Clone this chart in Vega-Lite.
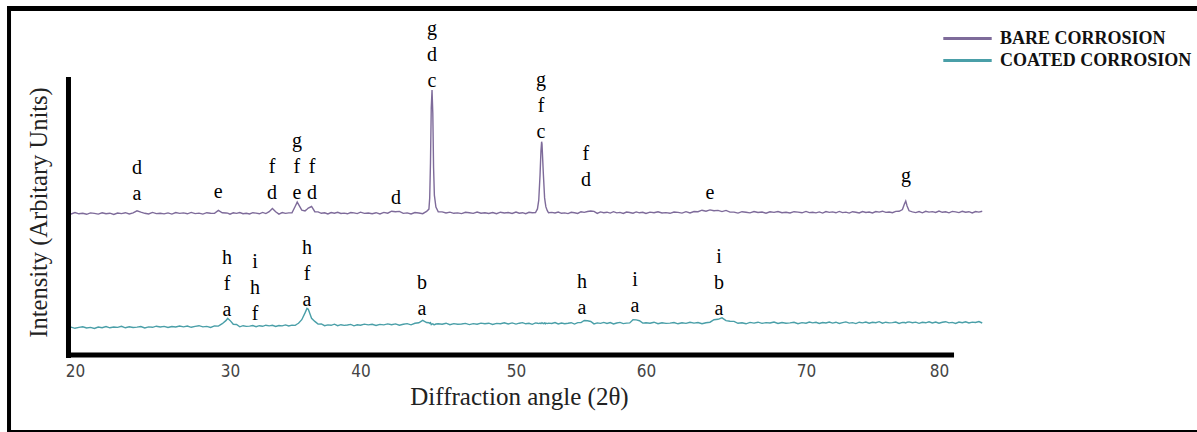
{
"$schema": "https://vega.github.io/schema/vega-lite/v6.json",
"width": 1197, "height": 432,
"autosize": {"type": "none"},
"padding": 0,
"background": "white",
"config": {"view": {"stroke": null}},
"datasets": {
"xrd": [
{"x":19.5,"b":141.9,"c":27.0},{"x":19.75,"b":141.0,"c":27.9},{"x":20,"b":142.4,"c":26.7},{"x":20.25,"b":141.2,"c":27.6},{"x":20.5,"b":141.7,"c":28.2},{"x":20.75,"b":140.7,"c":27.0},{"x":21,"b":142.1,"c":27.6},{"x":21.25,"b":141.6,"c":26.6},{"x":21.5,"b":140.9,"c":28.0},{"x":21.75,"b":142.2,"c":27.3},
{"x":22,"b":141.3,"c":28.4},{"x":22.25,"b":141.8,"c":27.2},{"x":22.5,"b":140.6,"c":28.0},{"x":22.75,"b":142.0,"c":27.6},{"x":23,"b":141.4,"c":28.7},{"x":23.25,"b":142.3,"c":27.2},{"x":23.5,"b":141.1,"c":28.2},{"x":23.75,"b":142.1,"c":27.5},{"x":24,"b":144.2,"c":27.9},{"x":24.25,"b":142.9,"c":28.5},
{"x":24.5,"b":141.7,"c":27.1},{"x":24.75,"b":141.0,"c":28.1},{"x":25,"b":142.6,"c":27.7},{"x":25.25,"b":141.4,"c":28.8},{"x":25.5,"b":141.8,"c":28.0},{"x":25.75,"b":141.1,"c":28.6},{"x":26,"b":142.1,"c":27.5},{"x":26.25,"b":140.9,"c":28.5},{"x":26.5,"b":142.4,"c":28.0},{"x":26.75,"b":141.6,"c":29.0},
{"x":27,"b":142.1,"c":28.1},{"x":27.25,"b":141.2,"c":29.0},{"x":27.5,"b":142.6,"c":27.7},{"x":27.75,"b":141.4,"c":28.6},{"x":28,"b":141.9,"c":29.3},{"x":28.25,"b":140.9,"c":28.1},{"x":28.5,"b":142.3,"c":28.6},{"x":28.75,"b":141.8,"c":27.6},{"x":29,"b":141.6,"c":29.1},{"x":29.25,"b":144.6,"c":28.9},
{"x":29.5,"b":142.2,"c":31.3},{"x":29.75,"b":142.0,"c":34.6},{"x":29.85,"b":141.9,"c":36.7},{"x":30,"b":140.8,"c":34.6},{"x":30.25,"b":142.2,"c":30.7},{"x":30.5,"b":141.6,"c":30.5},{"x":30.75,"b":142.5,"c":28.2},{"x":31,"b":141.3,"c":29.3},{"x":31.25,"b":141.7,"c":28.6},{"x":31.5,"b":141.0,"c":28.9},
{"x":31.75,"b":142.3,"c":29.5},{"x":32,"b":141.9,"c":28.3},{"x":32.25,"b":141.2,"c":29.3},{"x":32.5,"b":142.6,"c":28.7},{"x":32.75,"b":141.4,"c":29.8},{"x":33,"b":143.3,"c":29.1},{"x":33.25,"b":146.6,"c":29.7},{"x":33.5,"b":143.3,"c":28.5},{"x":33.75,"b":140.9,"c":29.5},{"x":34,"b":142.4,"c":29.1},
{"x":34.25,"b":141.6,"c":30.1},{"x":34.5,"b":142.1,"c":29.0},{"x":34.75,"b":142.2,"c":29.9},{"x":35,"b":148.8,"c":29.6},{"x":35.15,"b":152.9,"c":31.0},{"x":35.25,"b":150.6,"c":31.7},{"x":35.5,"b":144.8,"c":35.3},{"x":35.75,"b":144.1,"c":42.1},{"x":35.9,"b":145.7,"c":46.6},{"x":36,"b":147.0,"c":45.7},
{"x":36.25,"b":148.5,"c":36.7},{"x":36.5,"b":143.3,"c":33.6},{"x":36.75,"b":143.1,"c":30.9},{"x":37,"b":141.7,"c":31.0},{"x":37.25,"b":142.2,"c":29.3},{"x":37.5,"b":141.0,"c":30.1},{"x":37.75,"b":142.4,"c":29.7},{"x":38,"b":141.8,"c":30.8},{"x":38.25,"b":142.7,"c":29.3},{"x":38.5,"b":141.5,"c":30.3},
{"x":38.75,"b":141.9,"c":29.6},{"x":39,"b":141.2,"c":30.0},{"x":39.25,"b":142.5,"c":30.6},{"x":39.5,"b":142.1,"c":29.2},{"x":39.75,"b":141.4,"c":30.2},{"x":40,"b":142.8,"c":29.8},{"x":40.25,"b":141.6,"c":30.9},{"x":40.5,"b":142.0,"c":30.1},{"x":40.75,"b":141.3,"c":30.7},{"x":41,"b":142.3,"c":29.6},
{"x":41.25,"b":141.1,"c":30.6},{"x":41.5,"b":142.6,"c":30.1},{"x":41.75,"b":141.8,"c":31.1},{"x":42,"b":143.8,"c":30.2},{"x":42.25,"b":143.2,"c":31.1},{"x":42.5,"b":143.6,"c":29.8},{"x":42.75,"b":141.6,"c":30.7},{"x":43,"b":142.1,"c":31.4},{"x":43.25,"b":141.1,"c":30.2},{"x":43.5,"b":142.5,"c":31.7},
{"x":43.75,"b":142.0,"c":32.2},{"x":44,"b":141.3,"c":34.7},{"x":44.25,"b":143.6,"c":32.5},{"x":44.4,"b":145.9,"c":32.3},{"x":44.45,"b":156.9,"c":31.6},{"x":44.5,"b":191.9,"c":32.3},{"x":44.55,"b":246.9,"c":30.4},{"x":44.6,"b":265.0,"c":31.0},{"x":44.65,"b":241.9,"c":31.3},{"x":44.7,"b":186.9,"c":30.5},
{"x":44.75,"b":159.9,"c":30.3},{"x":44.85,"b":147.9,"c":31.0},{"x":45,"b":143.2,"c":31.2},{"x":45.25,"b":143.1,"c":30.8},{"x":45.5,"b":142.0,"c":31.8},{"x":45.75,"b":142.9,"c":30.3},{"x":46,"b":141.7,"c":31.4},{"x":46.25,"b":142.1,"c":30.7},{"x":46.5,"b":141.4,"c":31.0},{"x":46.75,"b":142.7,"c":31.6},
{"x":47,"b":142.3,"c":30.4},{"x":47.25,"b":141.6,"c":31.4},{"x":47.5,"b":143.0,"c":30.8},{"x":47.75,"b":141.8,"c":31.9},{"x":48,"b":142.2,"c":31.2},{"x":48.25,"b":141.5,"c":31.8},{"x":48.5,"b":142.5,"c":30.6},{"x":48.75,"b":141.3,"c":31.6},{"x":49,"b":142.8,"c":31.2},{"x":49.25,"b":142.0,"c":32.2},
{"x":49.5,"b":142.5,"c":31.1},{"x":49.75,"b":141.6,"c":32.1},{"x":50,"b":143.0,"c":30.9},{"x":50.25,"b":141.8,"c":31.8},{"x":50.5,"b":142.3,"c":32.4},{"x":50.75,"b":141.3,"c":31.2},{"x":51,"b":142.7,"c":31.7},{"x":51.25,"b":142.2,"c":30.7},{"x":51.5,"b":142.5,"c":32.1},{"x":51.65,"b":146.1,"c":31.8},
{"x":51.75,"b":154.8,"c":31.4},{"x":51.85,"b":180.1,"c":32.0},{"x":51.92,"b":204.1,"c":31.3},{"x":51.97,"b":213.3,"c":31.9},{"x":52,"b":211.1,"c":32.3},{"x":52.1,"b":182.1,"c":31.3},{"x":52.2,"b":157.1,"c":32.1},{"x":52.25,"b":152.4,"c":31.1},{"x":52.3,"b":148.1,"c":31.9},{"x":52.4,"b":144.6,"c":31.4},
{"x":52.5,"b":142.2,"c":31.9},{"x":52.75,"b":142.6,"c":31.5},{"x":53,"b":142.0,"c":32.5},{"x":53.25,"b":142.9,"c":31.0},{"x":53.5,"b":141.7,"c":32.0},{"x":53.75,"b":142.1,"c":31.3},{"x":54,"b":141.4,"c":31.7},{"x":54.25,"b":142.7,"c":32.3},{"x":54.5,"b":142.3,"c":30.9},{"x":54.75,"b":141.6,"c":32.4},
{"x":55,"b":143.3,"c":32.4},{"x":55.25,"b":142.6,"c":34.5},{"x":55.5,"b":143.5,"c":34.2},{"x":55.75,"b":144.0,"c":33.5},{"x":56,"b":143.6,"c":31.1},{"x":56.25,"b":141.6,"c":32.1},{"x":56.5,"b":143.1,"c":31.6},{"x":56.75,"b":142.3,"c":32.6},{"x":57,"b":142.8,"c":31.5},{"x":57.25,"b":141.9,"c":32.4},
{"x":57.5,"b":143.3,"c":31.1},{"x":57.75,"b":142.1,"c":32.0},{"x":58,"b":142.6,"c":32.6},{"x":58.25,"b":141.6,"c":31.4},{"x":58.5,"b":143.0,"c":31.9},{"x":58.75,"b":142.5,"c":32.1},{"x":59,"b":141.8,"c":35.3},{"x":59.25,"b":143.1,"c":35.1},{"x":59.5,"b":142.2,"c":34.3},{"x":59.75,"b":142.7,"c":31.9},
{"x":60,"b":141.5,"c":32.2},{"x":60.25,"b":142.9,"c":31.8},{"x":60.5,"b":142.3,"c":32.8},{"x":60.75,"b":143.2,"c":31.3},{"x":61,"b":142.0,"c":32.3},{"x":61.25,"b":142.4,"c":31.6},{"x":61.5,"b":141.7,"c":31.9},{"x":61.75,"b":143.0,"c":32.5},{"x":62,"b":142.6,"c":31.2},{"x":62.25,"b":141.9,"c":32.2},
{"x":62.5,"b":143.3,"c":31.6},{"x":62.75,"b":142.1,"c":32.7},{"x":63,"b":143.5,"c":31.9},{"x":63.25,"b":143.3,"c":32.5},{"x":63.5,"b":144.8,"c":31.3},{"x":63.75,"b":143.8,"c":32.3},{"x":64,"b":145.1,"c":32.8},{"x":64.25,"b":144.3,"c":35.3},{"x":64.5,"b":144.6,"c":35.7},{"x":64.75,"b":143.4,"c":37.1},
{"x":65,"b":144.6,"c":34.4},{"x":65.25,"b":142.9,"c":33.8},{"x":65.5,"b":142.9,"c":33.6},{"x":65.75,"b":141.9,"c":31.7},{"x":66,"b":143.3,"c":32.2},{"x":66.25,"b":142.8,"c":31.2},{"x":66.5,"b":142.1,"c":32.6},{"x":66.75,"b":143.4,"c":31.9},{"x":67,"b":142.5,"c":32.8},{"x":67.25,"b":143.0,"c":31.6},
{"x":67.5,"b":141.8,"c":32.4},{"x":67.75,"b":143.2,"c":32.0},{"x":68,"b":142.6,"c":33.0},{"x":68.25,"b":143.5,"c":31.5},{"x":68.5,"b":142.3,"c":32.5},{"x":68.75,"b":142.7,"c":31.8},{"x":69,"b":142.0,"c":32.1},{"x":69.25,"b":143.3,"c":32.7},{"x":69.5,"b":142.9,"c":31.3},{"x":69.75,"b":142.2,"c":32.4},
{"x":70,"b":143.6,"c":31.8},{"x":70.25,"b":142.4,"c":32.9},{"x":70.5,"b":142.8,"c":32.1},{"x":70.75,"b":142.1,"c":32.7},{"x":71,"b":143.1,"c":31.5},{"x":71.25,"b":141.9,"c":32.5},{"x":71.5,"b":143.4,"c":32.0},{"x":71.75,"b":142.6,"c":33.0},{"x":72,"b":143.1,"c":31.9},{"x":72.25,"b":142.2,"c":32.8},
{"x":72.5,"b":143.6,"c":31.5},{"x":72.75,"b":142.4,"c":32.4},{"x":73,"b":142.9,"c":33.1},{"x":73.25,"b":141.9,"c":31.9},{"x":73.5,"b":143.3,"c":32.4},{"x":73.75,"b":142.8,"c":31.4},{"x":74,"b":142.1,"c":32.8},{"x":74.25,"b":143.4,"c":32.1},{"x":74.5,"b":142.5,"c":33.0},{"x":74.75,"b":143.0,"c":31.8},
{"x":75,"b":142.1,"c":32.7},{"x":75.25,"b":143.5,"c":32.3},{"x":75.5,"b":142.9,"c":33.3},{"x":75.75,"b":143.8,"c":31.8},{"x":76,"b":142.6,"c":32.8},{"x":76.25,"b":143.0,"c":32.1},{"x":76.5,"b":142.3,"c":32.4},{"x":76.75,"b":143.6,"c":33.0},{"x":77,"b":143.7,"c":31.6},{"x":77.25,"b":145.5,"c":32.6},
{"x":77.4,"b":151.0,"c":32.5},{"x":77.5,"b":154.0,"c":32.0},{"x":77.6,"b":149.0,"c":32.8},{"x":77.75,"b":144.2,"c":33.1},{"x":78,"b":143.1,"c":32.3},{"x":78.25,"b":142.4,"c":32.9},{"x":78.5,"b":143.4,"c":31.7},{"x":78.75,"b":142.2,"c":32.7},{"x":79,"b":143.7,"c":32.2},{"x":79.25,"b":142.9,"c":33.2},
{"x":79.5,"b":143.4,"c":32.1},{"x":79.75,"b":142.5,"c":33.0},{"x":80,"b":143.9,"c":31.8},{"x":80.25,"b":142.7,"c":32.7},{"x":80.5,"b":143.2,"c":33.3},{"x":80.75,"b":142.2,"c":32.1},{"x":81,"b":143.6,"c":32.6},{"x":81.25,"b":143.1,"c":31.6},{"x":81.5,"b":142.4,"c":33.0},{"x":81.75,"b":143.7,"c":32.3},
{"x":82,"b":142.8,"c":33.2},{"x":82.25,"b":143.3,"c":32.0},{"x":82.5,"b":142.1,"c":32.9},{"x":82.75,"b":143.5,"c":32.5},{"x":83,"b":142.9,"c":33.5},{"x":83.25,"b":143.8,"c":32.0}
],
"labels": [
{"x":24.0,"y":181.5,"t":"d\na"},
{"x":29.23,"y":157.5,"t":"e"},
{"x":33.22,"y":182,"t":"f\nd"},
{"x":35.13,"y":208.5,"t":"g\nf\ne"},
{"x":36.28,"y":182,"t":"f\nd"},
{"x":42.28,"y":151,"t":"d"},
{"x":44.6,"y":320.5,"t":"g\nd\nc"},
{"x":51.92,"y":269,"t":"g\nf\nc"},
{"x":55.38,"y":195,"t":"f\nd"},
{"x":64.0,"y":156.5,"t":"e"},
{"x":77.52,"y":173,"t":"g"},
{"x":29.81,"y":91,"t":"h\nf\na"},
{"x":31.92,"y":87,"t":"i\nh\nf"},
{"x":35.9,"y":101,"t":"h\nf\na"},
{"x":43.95,"y":66,"t":"b\na"},
{"x":55.08,"y":67,"t":"h\na"},
{"x":59.15,"y":69,"t":"i\na"},
{"x":64.56,"y":92,"t":"i\nb\na"}
]
},
"layer": [
{
"data": {"name": "xrd"},
"transform": [{"fold": ["b", "c"], "as": ["series", "value"]}],
"mark": {"type": "line", "strokeWidth": 1.4},
"encoding": {
"x": {"field": "x", "type": "quantitative", "title": "Diffraction angle (2θ)",
"scale": {"domain": [15.16, 20, 30, 40, 50, 60, 70, 80, 99.4], "range": [0, 75, 230, 360.5, 516, 646, 806, 939, 1197], "nice": false, "zero": false},
"axis": {"orient": "bottom", "offset": -77, "domain": false, "ticks": false, "grid": false, "values": [20, 30, 40, 50, 60, 70, 80],
"labelFont": "DejaVu Sans Condensed, Liberation Sans, sans-serif", "labelFontSize": 17, "labelColor": "#444", "labelPadding": 8, "labelFlush": false, "labelOverlap": false,
"titleFont": "Liberation Serif", "titleFontSize": 25, "titleFontWeight": "normal", "titleColor": "#222",
"titleX": 519, "titleY": 49, "titleBaseline": "alphabetic", "titleAlign": "center"}},
"y": {"field": "value", "type": "quantitative", "title": "Intensity (Arbitary Units)",
"scale": {"domain": [-77, 355], "nice": false, "zero": false},
"axis": {"orient": "left", "offset": -68.5, "domain": false, "ticks": false, "labels": false, "grid": false,
"titleFont": "Liberation Serif", "titleFontSize": 24.5, "titleFontWeight": "normal", "titleColor": "#222",
"titleX": -29, "titleY": 212, "titleAlign": "center", "titleBaseline": "middle", "titleAngle": -90}},
"color": {"field": "series", "type": "nominal",
"scale": {"domain": ["b", "c"], "range": ["#7e6b9a", "#4a9fa8"]},
"legend": {"orient": "none", "legendX": 955, "legendY": 26, "title": null, "padding": 0, "rowPadding": 0,
"symbolType": "M-2.2,0H2.2", "symbolSize": 484, "symbolStrokeWidth": 3,
"labelFont": "Liberation Serif", "labelFontSize": 18, "labelFontWeight": "bold", "labelColor": "#111", "labelOffset": 20, "labelLimit": 400,
"labelExpr": "datum.label == 'b' ? 'BARE CORROSION' : 'COATED CORROSION'",
"encode": {"symbols": {"update": {"stroke": [{"test": "datum.value === 'b'", "value": "#7030a0"}, {"value": "#20bcbc"}], "strokeWidth": {"value": 3}, "fill": {"value": "transparent"}}}}}}
}
},
{
"data": {"name": "labels"},
"mark": {"type": "text", "font": "Liberation Serif", "fontSize": 20, "color": "black", "align": "center", "baseline": "alphabetic", "lineBreak": "\n", "lineHeight": 26},
"encoding": {
"x": {"field": "x", "type": "quantitative", "title": "Diffraction angle (2θ)"},
"y": {"field": "y", "type": "quantitative", "title": "Intensity (Arbitary Units)"},
"text": {"field": "t", "type": "nominal"}
}
},
{
"data": {"values": [{}]},
"mark": {"type": "rule", "color": "black", "strokeWidth": 5},
"encoding": {"x": {"datum": 19.42, "type": "quantitative", "title": "Diffraction angle (2θ)"}, "x2": {"datum": 81.13}, "y": {"datum": 0, "type": "quantitative", "title": "Intensity (Arbitary Units)"}}
},
{
"data": {"values": [{}]},
"mark": {"type": "rule", "color": "black", "strokeWidth": 5},
"encoding": {"x": {"datum": 19.58, "type": "quantitative", "title": "Diffraction angle (2θ)"}, "y": {"datum": -3, "type": "quantitative", "title": "Intensity (Arbitary Units)"}, "y2": {"datum": 278}}
},
{
"data": {"values": [{}]},
"mark": {"type": "rule", "color": "black", "strokeWidth": 5},
"encoding": {"x": {"datum": 15.613, "type": "quantitative", "title": "Diffraction angle (2θ)"}, "x2": {"datum": 99.4}, "y": {"datum": 346.5, "type": "quantitative", "title": "Intensity (Arbitary Units)"}}
},
{
"data": {"values": [{}]},
"mark": {"type": "rule", "color": "black", "strokeWidth": 4},
"encoding": {"x": {"datum": 15.742, "type": "quantitative", "title": "Diffraction angle (2θ)"}, "y": {"datum": 349, "type": "quantitative", "title": "Intensity (Arbitary Units)"}, "y2": {"datum": -76.5}}
},
{
"data": {"values": [{}]},
"mark": {"type": "rule", "color": "black", "strokeWidth": 2},
"encoding": {"x": {"datum": 15.613, "type": "quantitative", "title": "Diffraction angle (2θ)"}, "x2": {"datum": 99.4}, "y": {"datum": -76, "type": "quantitative", "title": "Intensity (Arbitary Units)"}}
}
]
}
